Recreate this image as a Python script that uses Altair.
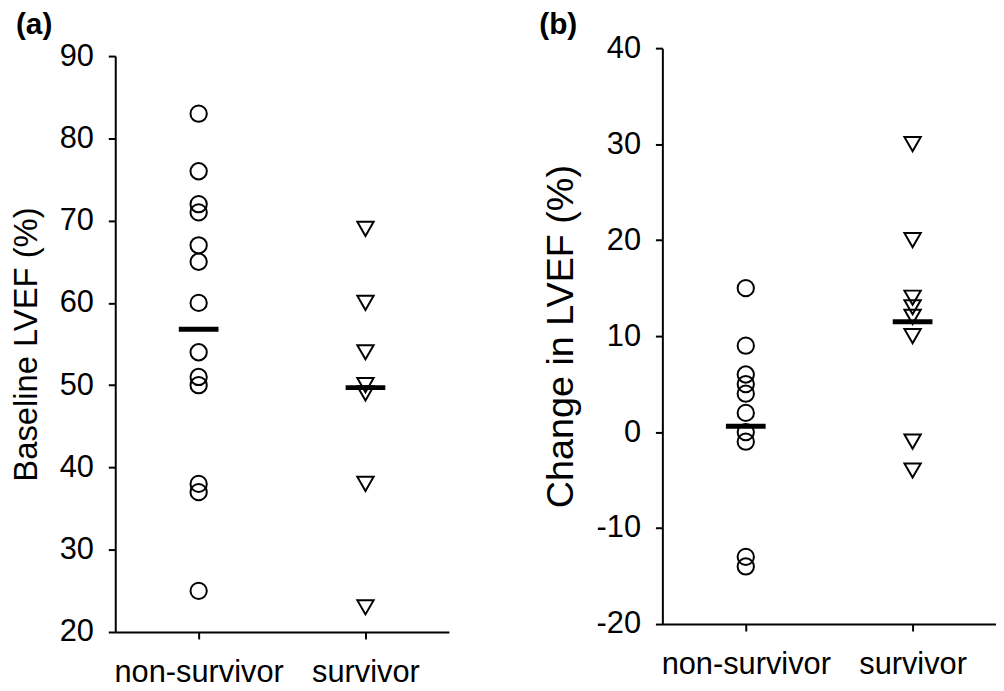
import altair as alt
import pandas as pd

groups = ["non-survivor", "survivor"]
panel_tags = ["(a)", "(b)"]
y_titles = ["Baseline LVEF (%)", "Change in LVEF (%)"]

base_non = [83, 76, 72, 71, 67, 65, 60, 54, 51, 50, 38, 37, 25]
base_surv = [69, 60, 54, 50, 49, 38, 23]
base_mean = [56.8, 49.7]

chg_non = [15, 9, 6, 5, 4, 2, 0, -1, -13, -14]
chg_surv = [30, 20, 14, 13, 12, 10, -1, -4]
chg_mean = [0.6, 11.5]

a_ticks = [20, 30, 40, 50, 60, 70, 80, 90]
b_ticks = [-20, -10, 0, 10, 20, 30, 40]

FONT = "Liberation Sans"


def panel(non, surv, means, ticks, ytitle, tfs, tag, tag_x, tag_y, w, h):
    df = pd.DataFrame({
        "group": [groups[0]] * len(non) + [groups[1]] * len(surv),
        "value": non + surv,
    })
    mdf = pd.DataFrame({"group": groups, "value": means})
    xenc = alt.X("group:N", sort=groups,
                 scale=alt.Scale(type="point", domain=groups, padding=0.5),
                 axis=alt.Axis(title=None, labelAngle=0, labelPadding=19))
    yscale = alt.Scale(domain=[ticks[0], ticks[-1]], nice=False, zero=False)
    yaxis = alt.Axis(title=ytitle, values=ticks, grid=False,
                     labelExpr="'' + datum.value", labelPadding=15,
                     titlePadding=16, titleFontSize=tfs)
    pts = alt.Chart(df).mark_point(filled=False, color="black", strokeWidth=2,
                                   size=270, opacity=1).encode(
        x=xenc,
        y=alt.Y("value:Q", scale=yscale, axis=yaxis),
        shape=alt.Shape("group:N", scale=alt.Scale(domain=groups,
                        range=["circle", "triangle-down"]), legend=None),
    )
    mean = alt.Chart(mdf).mark_tick(color="black", thickness=5, size=40,
                                    opacity=1).encode(
        x=xenc,
        y=alt.Y("value:Q", scale=yscale, axis=yaxis),
    )
    lab = alt.Chart(pd.DataFrame({"t": [tag]})).mark_text(
        font=FONT, fontSize=30, fontWeight="bold", align="left",
        baseline="alphabetic", color="black").encode(
        x=alt.value(tag_x), y=alt.value(tag_y), text="t:N")
    return alt.layer(pts, mean, lab).properties(width=w, height=h)


pa = panel(base_non, base_surv, base_mean, a_ticks, y_titles[0], 33,
           panel_tags[0], -100, -22, 336, 580)
pb = panel(chg_non, chg_surv, chg_mean, b_ticks, y_titles[1], 38,
           panel_tags[1], -124, -14, 336, 580)

spacer = alt.Chart(pd.DataFrame({"s": [0]})).mark_point(
    opacity=0, size=1).encode(x=alt.value(10), y=alt.value(4)).properties(
    width=336, height=8)

col_a = alt.vconcat(spacer, pa, spacing=0, bounds="flush")

chart = alt.hconcat(col_a, pb, spacing=91).properties(
    padding={"left": 2, "top": 0, "right": 0, "bottom": 0}
).configure_view(strokeWidth=0).configure_axis(
    domainColor="black", domainWidth=2, tickColor="black", tickWidth=2,
    tickSize=7, labelFont=FONT, labelFontSize=31, labelColor="black",
    titleFont=FONT, titleFontWeight="normal", titleColor="black",
)

chart.save("out.html", embed_options={"renderer": "svg", "actions": False})
